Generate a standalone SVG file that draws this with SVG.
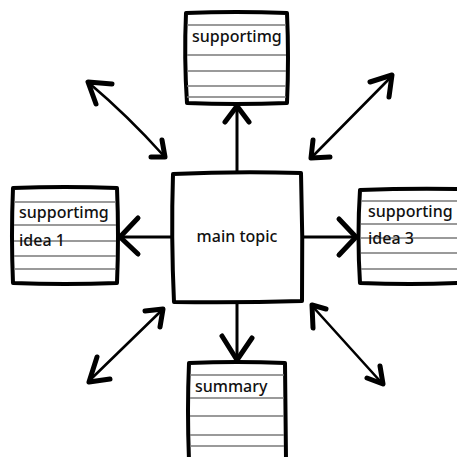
<svg xmlns="http://www.w3.org/2000/svg" width="457" height="457" viewBox="0 0 457 457">
<defs>
<style>
.box{fill:#fff;stroke:#000;stroke-width:4;stroke-linejoin:round}
.rule{stroke:#7a7a7a;stroke-width:1.3;fill:none}
.t{font-family:"Noto Sans","Liberation Sans",sans-serif;font-size:16px;font-weight:500;fill:#111}
.ln{fill:none;stroke:#000;stroke-width:3;stroke-linecap:round}
.dl{fill:none;stroke:#000;stroke-width:2.6;stroke-linecap:round}
.hd{fill:none;stroke:#000;stroke-width:5;stroke-linecap:round;stroke-linejoin:round}
</style>
</defs>
<rect width="457" height="457" fill="#fff"/>
<g id="connectors">
<path class="ln" d="M237 173 L237 106"/>
<path class="hd" d="M225 122 L237 106 L249 122"/>
<path class="ln" d="M172 237 L119 237"/>
<path class="hd" d="M138 218 L120 237 L138 254"/>
<path class="ln" d="M302 237 L356 237"/>
<path class="hd" d="M339 219 L356 237 L339 255"/>
<path class="ln" d="M237 302 L237 360"/>
<path class="hd" d="M222 336 L237 360 L252 338"/>
<path class="dl" d="M89 83 Q128 116 163 155"/>
<path class="hd" d="M96 104 L88 82 L112 84"/>
<path class="hd" d="M151 157 L165 157 L162 140"/>
<path class="dl" d="M391 77 L313 156"/>
<path class="hd" d="M370 82 L392 75 L389 97"/>
<path class="hd" d="M313 140 L311 158 L330 157"/>
<path class="dl" d="M161 311 L90 380"/>
<path class="hd" d="M145 311 L163 309 L160 327"/>
<path class="hd" d="M97 357 L89 382 L110 379"/>
<path class="dl" d="M314 308 L380 381"/>
<path class="hd" d="M313 328 L312 305 L326 309"/>
<path class="hd" d="M367 378 L383 384 L380 366"/>
</g>
<g id="main-topic">
<path class="box" d="M173 174 Q237 171 301 173 Q303 237 302 301 Q237 303 174 302 Q171 237 173 174 Z"/>
<text class="t" x="237" y="242" text-anchor="middle" font-size="16.5">main topic</text>
</g>
<g id="top-box">
<path class="box" d="M186 13 Q236 11 287 13 Q289 58 287 103 Q236 105 187 103 Q184 58 186 13 Z"/>
<path class="rule" d="M187 25 H286 M187 55 H286 M187 71 H286 M187 86 H286 M187 97 H286"/>
<text class="t" x="192" y="42">supportimg</text>
</g>
<g id="left-box">
<path class="box" d="M13 188 Q65 186 117 188 Q119 236 117 283 Q65 285 13 283 Q11 236 13 188 Z"/>
<path class="rule" d="M14 202 H116 M14 225 H116 M14 241 H116 M14 256 H116 M14 269 H116"/>
<text class="t" x="19" y="218">supportimg</text>
<text class="t" x="19" y="246">idea 1</text>
</g>
<g id="right-box">
<path class="box" d="M360 190 Q410 188 460 189 L460 283 Q410 285 360 283 Q357 236 360 190 Z"/>
<path class="rule" d="M361 201 H457 M361 224 H457 M361 238 H457 M361 253 H457 M361 269 H457"/>
<text class="t" x="368" y="217">supporting</text>
<text class="t" x="368" y="244">idea 3</text>
</g>
<g id="bottom-box">
<path class="box" d="M189 363 Q237 361 285 363 L286 460 L189 460 Q187 410 189 363 Z"/>
<path class="rule" d="M190 375 H284 M190 398 H284 M190 416 H284 M190 435 H284 M190 446 H284"/>
<text class="t" x="195" y="392">summary</text>
</g>
</svg>
